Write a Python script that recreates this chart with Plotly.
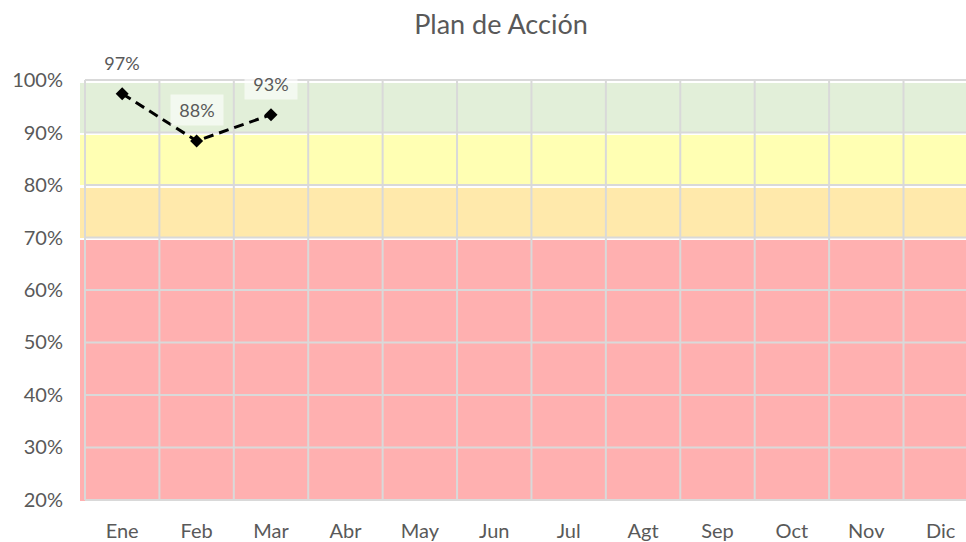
import plotly.graph_objects as go

# ---- data ----
months = ["Ene", "Feb", "Mar", "Abr", "May", "Jun", "Jul", "Agt", "Sep", "Oct", "Nov", "Dic"]
actual_months = ["Ene", "Feb", "Mar"]
actual_values = [0.974, 0.884, 0.934]

band_names = ["Crítico", "Bajo", "Medio", "Alto"]
band_lower = [0.0, 0.70, 0.80, 0.90]
band_upper = [0.70, 0.80, 0.90, 1.00]
band_colors = ["#FFB0B0", "#FFE9AB", "#FFFFB3", "#E2EFD9"]

y_ticks = [0.2, 0.3, 0.4, 0.5, 0.6, 0.7, 0.8, 0.9, 1.0]

# ---- style constants ----
TEXT = "#595959"
GRID = "#D9D9D9"
FONT = "Lato"
BAND_GAP = 0.005      # small white strip under each gridline
BAR_OFFSET = -0.567   # bars start slightly left of the first gridline

fig = go.Figure()

n = len(months)
idx = list(range(n))

# bands as bars
for name, lo, hi, col in zip(band_names, band_lower, band_upper, band_colors):
    fig.add_trace(go.Bar(
        x=idx, y=[hi - lo - BAND_GAP] * n, base=[lo] * n,
        width=[1] * n, offset=BAR_OFFSET,
        marker=dict(color=col, line=dict(width=0)),
        name=name, hoverinfo="skip", showlegend=False,
    ))

# gridlines drawn above the bands (as line traces so the data line stays on top)
gx, gy = [], []
for t in y_ticks:
    gx += [-0.5, n + 1, None]
    gy += [t, t, None]
for i in range(n + 1):
    gx += [i - 0.5, i - 0.5, None]
    gy += [y_ticks[0], y_ticks[-1], None]
fig.add_trace(go.Scatter(
    x=gx, y=gy, mode="lines", line=dict(color=GRID, width=2),
    hoverinfo="skip", showlegend=False,
))

# actual line
act_idx = [months.index(m) for m in actual_months]
fig.add_trace(go.Scatter(
    x=act_idx, y=actual_values, mode="lines+markers",
    line=dict(color="black", width=3, dash="10px,6px"),
    marker=dict(symbol="diamond", size=10, color="black"),
    name="Real", showlegend=False,
))

for i, v in zip(act_idx, actual_values):
    fig.add_annotation(
        x=i, y=v, text=f"{v * 100:.0f}%", showarrow=False, yshift=31,
        font=dict(family=FONT, size=18, color=TEXT), width=44,
        bgcolor="rgba(255,255,255,0.6)", borderpad=4,
    )

fig.update_layout(
    width=966, height=542,
    margin=dict(l=80, r=0, t=79, b=41),
    paper_bgcolor="white", plot_bgcolor="white",
    barmode="overlay", bargap=0,
    title=dict(text="Plan de Acción", x=0.5186, xref="container", xanchor="center",
               y=0.955, yref="container", yanchor="middle",
               font=dict(family=FONT, size=27, color=TEXT)),
    font=dict(family=FONT, color=TEXT),
    hovermode=False,
)
fig.update_xaxes(
    range=[BAR_OFFSET, 11.34], tickmode="array", tickvals=idx, ticktext=months,
    showgrid=False, zeroline=False, showline=False, ticks="",
    tickfont=dict(family=FONT, size=20, color=TEXT), ticklabelstandoff=16,
)
fig.update_yaxes(
    range=[0.198, 1.002], tickvals=y_ticks, tickformat=".0%",
    showgrid=False, zeroline=False, showline=False, ticks="",
    tickfont=dict(family=FONT, size=20, color=TEXT), ticklabelstandoff=16,
)

fig.write_html("out.html", config={"displayModeBar": False},
               post_script="document.body.style.margin='0';")
